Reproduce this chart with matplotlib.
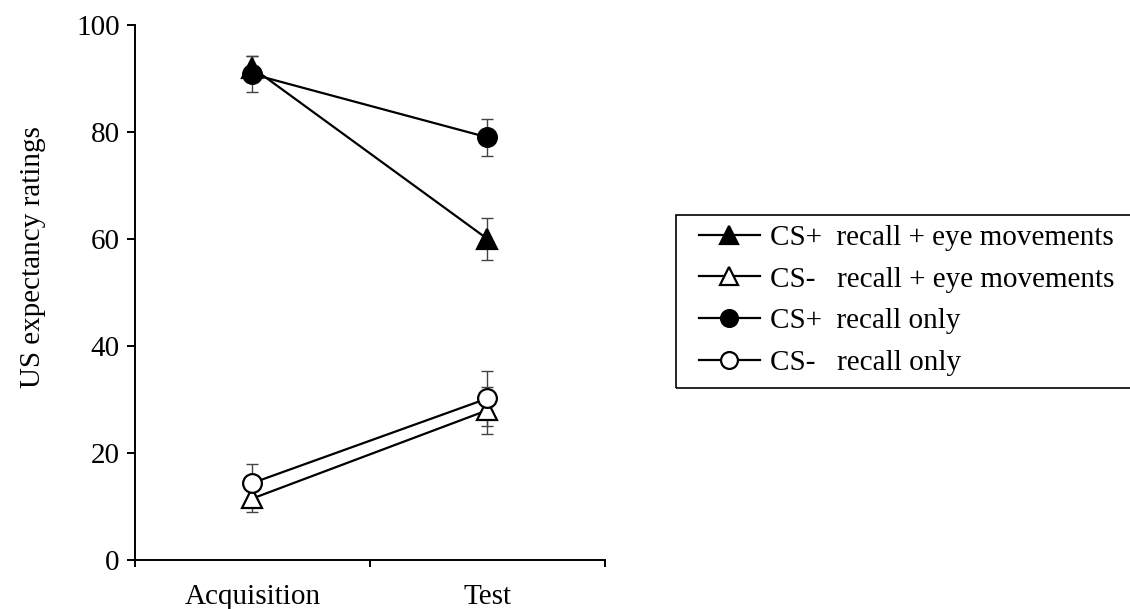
import numpy as np
import matplotlib
matplotlib.use("Agg")
import matplotlib.pyplot as plt
from matplotlib.patches import Rectangle

plt.rcParams['font.family'] = ['Liberation Serif', 'DejaVu Serif']

phases = ['Acquisition', 'Test']
phase_x = [0.5, 1.5]

cs_plus_eye = [92.0, 60.0]
cs_plus_eye_err = [2.2, 4.0]
cs_minus_eye = [11.5, 28.0]
cs_minus_eye_err = [2.6, 4.4]
cs_plus_recall = [90.8, 79.0]
cs_plus_recall_err = [3.4, 3.4]
cs_minus_recall = [14.4, 30.2]
cs_minus_recall_err = [3.6, 5.1]

labels = ['CS+  recall + eye movements',
          'CS-   recall + eye movements',
          'CS+  recall only',
          'CS-   recall only']

fig = plt.figure(figsize=(11.3, 6.09), dpi=100)
ax = fig.add_axes([135 / 1130, 49 / 609, 470 / 1130, 535 / 609])

series = [
    (cs_plus_eye, cs_plus_eye_err, '^', 'black', 14),
    (cs_minus_eye, cs_minus_eye_err, '^', 'white', 14),
    (cs_plus_recall, cs_plus_recall_err, 'o', 'black', 13.5),
    (cs_minus_recall, cs_minus_recall_err, 'o', 'white', 13.5),
]

for (vals, err, mk, fc, ms), lab in zip(series, labels):
    ax.errorbar(phase_x, vals, yerr=err, fmt='none', ecolor='#444444',
                elinewidth=1.0, capsize=4, capthick=1.0, zorder=2)
    ax.plot(phase_x, vals, '-', color='black', lw=1.6, marker=mk, ms=ms,
            mfc=fc, mec='black', mew=1.6, label=lab, zorder=3)

ax.set_xlim(0, 2)
ax.set_ylim(0, 100)
ax.spines['top'].set_visible(False)
ax.spines['right'].set_visible(False)
ax.spines['left'].set_linewidth(1.4)
ax.spines['bottom'].set_linewidth(1.4)

ax.set_xticks([0, 1, 2])
ax.set_xticklabels([])
ax.set_xticks(phase_x, minor=True)
ax.set_xticklabels(phases, minor=True, fontsize=21)
ax.tick_params(axis='x', which='major', direction='out', length=5, width=1.4)
ax.tick_params(axis='x', which='minor', length=0, pad=17)

ax.set_yticks(np.arange(0, 101, 20))
ax.tick_params(axis='y', direction='out', length=6, width=1.4, labelsize=21, pad=5)
ax.set_ylabel('US expectancy ratings', fontsize=21)
ax.yaxis.set_label_coords(-0.19, 0.566)

leg = ax.legend(loc='upper left', bbox_to_anchor=(687 / 1130, 1 - 213 / 609),
                bbox_transform=fig.transFigure, frameon=False, fontsize=21,
                handlelength=2.1, handletextpad=0.35, labelspacing=0.52,
                borderpad=0.4, borderaxespad=0, markerscale=0.9)

# legend box, running off the right edge like the original
fig.patches.append(Rectangle((676 / 1130, 1 - 388 / 609), 470 / 1130, 173 / 609,
                             transform=fig.transFigure, fill=False,
                             edgecolor='black', linewidth=1.2))

fig.savefig('out.png', dpi=100)
